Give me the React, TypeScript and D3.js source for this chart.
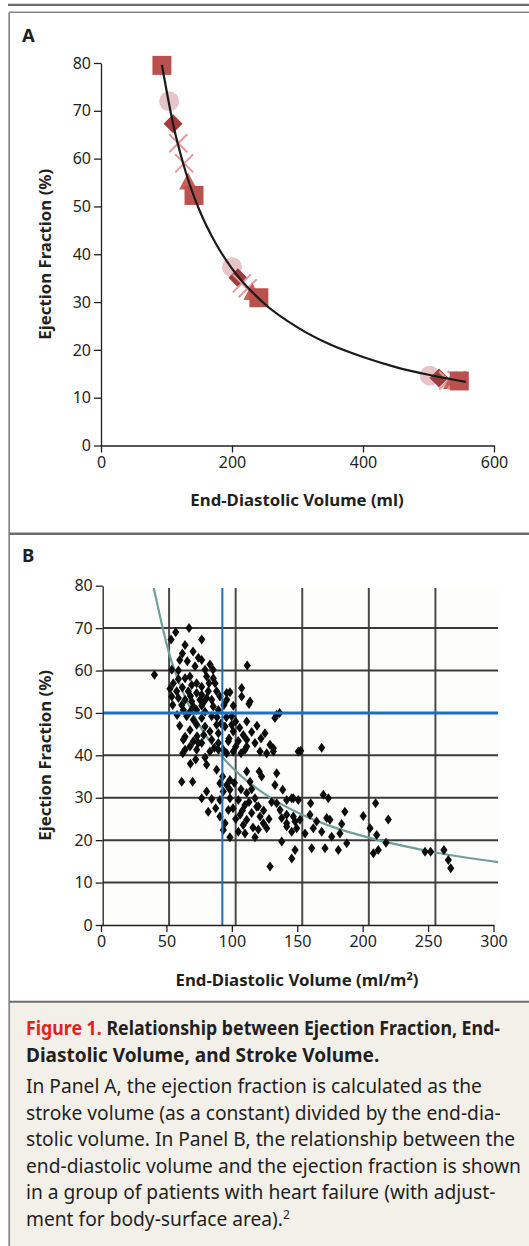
import React, { useEffect, useRef } from "react";
import * as d3 from "d3";

// ---- Panel A: stroke volume held constant ----
const panelAEdv = [93, 104, 110, 118, 127, 133, 142, 200, 209, 215, 224, 231, 241, 502, 516, 530, 536, 543, 547];
const panelAEf = [79.5, 72, 67.3, 63.2, 59, 55, 52.3, 37.3, 35.1, 33.9, 32.9, 31.9, 30.9, 14.6, 14.1, 13.6, 13.3, 13.7, 13.5];
const panelAShape = [
  "square", "circle", "diamond", "cross", "cross", "triangle", "square",
  "circle", "diamond", "cross", "cross", "triangle", "square",
  "circle", "diamond", "cross", "triangle", "cross", "square",
];
const panelACurveEdv = [93, 110, 130, 150, 175, 200, 250, 300, 350, 400, 450, 500, 557];
const panelACurveEf = [79.6, 67.3, 56.9, 49.3, 42.3, 37.0, 29.6, 24.7, 21.1, 18.5, 16.4, 14.8, 13.3];
const panelAXTicks = [0, 200, 400, 600];
const panelAYTicks = [0, 10, 20, 30, 40, 50, 60, 70, 80];

// ---- Panel B: heart-failure patients ----
const panelBEdv = [
  39, 65, 55, 51.5, 74.5, 62, 63.7, 74.5, 69.5, 80.7, 83, 108.7, 52, 57, 77, 62, 65.7, 78.2, 83.2, 53.2,
  67, 70.7, 74.5, 84.5, 50.7, 55.7, 64.4, 70.7, 74.5, 79.4, 85.7, 93.3, 95.7, 104.5, 52, 57, 62, 67, 73.2, 78.2,
  82, 88.2, 93.3, 104.5, 110.8, 52.7, 59.5, 68.2, 74.5, 83.2, 91.2, 98.2, 110, 60.7, 65.7, 70.7, 77, 87, 133, 129.5,
  130.8, 63.2, 68.2, 74.5, 82, 97, 108.3, 70.7, 77, 85.7, 92, 97, 65.7, 80.7, 87, 98.2, 105.7, 122, 62, 60.7,
  68.2, 74.5, 82, 87, 94.5, 102, 108.3, 114.5, 125.8, 72, 62, 70.7, 80.7, 90.7, 98.2, 107, 118.3, 128.3,
  60.3, 65.7, 87, 93.3, 108.3, 123.3, 128.3, 147, 78.2, 59.5, 67.7, 88.2, 93.3, 95.7, 90.7, 108.3, 117.7, 119.5,
  130.8, 129.5, 135.3, 110.8, 78.2, 74.5, 82, 88.2, 95.7, 102, 108.3, 114.5, 107, 115.8, 130.8, 138.3, 143.3, 79.4,
  88.2, 94.5, 103.3, 108.3, 112, 118.3, 120.8, 123.3, 134.6, 138.3, 144.6, 145.8, 142.1, 105.7, 102, 107, 90.7, 95.7,
  114.5, 134.6, 144.6, 142.1, 125.8, 90.2, 95.7, 85.7,
  148.8, 164.6, 142.1, 147, 156.3, 165.8, 169.6, 133.3, 138.3, 143.3, 148.3, 155.8, 160.8, 168.4, 170.8, 179.6, 182,
  195.8, 205.1, 214.6, 138.3, 152.1, 158.3, 164.6, 172.1, 178.3, 183.4, 167.1, 157.1, 177.1, 200.9, 205.9, 203.4,
  207.1, 212.9, 242.2, 246.4, 256.4, 259.7, 261.5,
  105, 110, 113, 117, 121, 125, 127, 100, 98, 85, 92, 117, 112, 104, 99,
  58, 60, 68, 72, 57, 60, 66, 76, 80, 86, 89, 93, 100, 103, 58, 56, 71, 76, 84, 95, 100, 104, 112, 116, 119,
  66, 70, 77,
];
const panelBEf = [
  59, 70, 69, 67.3, 67.3, 66, 62.2, 62.5, 61, 61.4, 60.2, 61.2, 60.2, 60, 60.2, 58.2, 58.6, 58.6, 58.2, 57,
  56.6, 57, 56.2, 57, 55.7, 55.1, 55.1, 54.7, 54.3, 55.1, 55.1, 54.7, 54.9, 55.9, 53.9, 53.5, 53.1, 52.7, 53.1, 53.5,
  53.1, 53.9, 53.1, 53.9, 52.7, 51.9, 51.9, 51.5, 51.7, 51.5, 51.9, 51.7, 52.1, 50.7, 50.3, 50.7, 50.3, 50.7, 50, 48.8,
  49.6, 49.2, 48.4, 48.8, 49.2, 49.2, 48, 47.2, 46.8, 47.2, 46.8, 47.2, 46, 45.6, 45.2, 45.6, 44.8, 45.2, 44.4, 43.7,
  43.3, 42.9, 43.7, 42.9, 43.3, 43.4, 43.7, 42.9, 42.5, 42.9, 41.3, 41.3, 40.9, 41.3, 40.9, 41.3, 40.9, 40.9,
  40.5, 42.1, 41.3, 40.5, 42.1, 40.5, 41.7, 40.9, 37.8, 33.8, 33.8, 33.4, 33, 31.9, 31.5, 36.2, 36.2, 35,
  35.8, 33, 31.9, 33.8, 31.5, 29.9, 29.7, 29.5, 29.9, 29.5, 31.1, 29.9, 28.3, 27.9, 28.7, 29.5, 29.9, 26.7,
  25.6, 27.1, 26, 24.8, 26.4, 25.6, 24, 22.8, 25.2, 24, 24.4, 22.8, 22, 23.6, 22, 21.6, 22.4, 20.7,
  20.7, 19.7, 17.7, 15.7, 13.8, 35, 34.2, 36.6,
  41.1, 41.8, 29.9, 29.5, 28.7, 30.7, 29.9, 27.1, 26, 25.6, 24.8, 26, 24.4, 25.2, 24.8, 23.8, 26.7,
  25.7, 28.7, 24.9, 23.2, 21.6, 22.8, 22, 20.8, 21.6, 19.3, 18.1, 18.1, 17.7, 22.8, 21.2, 16.9,
  17.7, 19.4, 17.3, 17.3, 17.7, 15.3, 13.4,
  27, 29, 23, 28, 27, 25, 29, 25, 27.5, 27.5, 24, 22.5, 32, 32, 33.5,
  62.5, 64, 64.5, 63, 58, 56, 54, 52.5, 57, 49, 47.5, 49, 48, 46.5, 47, 49.5, 44.5, 44.8, 41.8, 44, 42, 40.5, 45.5, 47, 44,
  38, 39, 39.5,
];
const panelBCurveEdv = [38, 50, 60, 70, 80, 90, 100, 125, 150, 175, 200, 225, 250, 275, 298];
const panelBCurveEf = [80.2, 64.1, 55.2, 48.6, 43.6, 39.6, 36.3, 30.2, 26.0, 22.9, 20.6, 18.7, 17.1, 15.8, 14.8];
const panelBXTicks = [0, 50, 100, 150, 200, 250, 300];
const panelBYTicks = [0, 10, 20, 30, 40, 50, 60, 70, 80];
const panelBGridX = [50, 100, 150, 200, 250];
const panelBGridY = [10, 20, 30, 40, 60, 70];
const panelBRefEdv = 90;
const panelBRefEf = 50;

const captionBody = [
  "In Panel A, the ejection fraction is calculated as the",
  "stroke volume (as a constant) divided by the end-dia-",
  "stolic volume. In Panel B, the relationship between the",
  "end-diastolic volume and the ejection fraction is shown",
  "in a group of patients with heart failure (with adjust-",
  "ment for body-surface area).",
];

const FONT = "'Noto Sans', 'Open Sans', sans-serif";
const INK = "#231f20";
const RULE = "#6d6d6d";

const App = () => {
  const ref = useRef<SVGSVGElement>(null);

  useEffect(() => {
    document.body.style.margin = "0";
    const svg = d3.select(ref.current);
    svg.selectAll("*").remove();

    // frame
    svg.append("line").attr("x1", 8).attr("x2", 529).attr("y1", 4.8).attr("y2", 4.8)
      .attr("stroke", RULE).attr("stroke-width", 2.2);
    svg.append("rect").attr("x", 10).attr("y", 1002.5).attr("width", 519).attr("height", 244)
      .attr("fill", "#f3f0ea");
    svg.append("line").attr("x1", 9.2).attr("x2", 529).attr("y1", 12.2).attr("y2", 12.2)
      .attr("stroke", "#858585").attr("stroke-width", 1.6);
    svg.append("line").attr("x1", 9.2).attr("x2", 9.2).attr("y1", 12.2).attr("y2", 1246)
      .attr("stroke", "#858585").attr("stroke-width", 1.7);
    svg.append("line").attr("x1", 9.2).attr("x2", 529).attr("y1", 533.7).attr("y2", 533.7)
      .attr("stroke", RULE).attr("stroke-width", 2.4);
    svg.append("line").attr("x1", 9.2).attr("x2", 529).attr("y1", 1001.7).attr("y2", 1001.7)
      .attr("stroke", RULE).attr("stroke-width", 2);

    const styleAxis = (g) => {
      g.attr("font-family", FONT).attr("font-size", 16);
      g.selectAll("path,line").attr("stroke", INK).attr("stroke-width", 1.3);
      g.selectAll("text").attr("fill", INK);
    };

    // ---------- Panel A ----------
    const xA = d3.scaleLinear().domain([0, 600]).range([101, 494]);
    const yA = d3.scaleLinear().domain([0, 80]).range([445.5, 63]);

    svg.append("text").attr("x", 22).attr("y", 41.7).attr("font-family", FONT)
      .attr("font-weight", 700).attr("font-size", 18.5).attr("fill", INK).text("A");

    svg.append("g").attr("transform", `translate(${xA(0)},0)`)
      .call(d3.axisLeft(yA).tickValues(panelAYTicks).tickSize(7).tickSizeOuter(0).tickPadding(3))
      .call(styleAxis);
    svg.append("g").attr("transform", `translate(0,${yA(0)})`)
      .call(d3.axisBottom(xA).tickValues(panelAXTicks).tickSize(7).tickSizeOuter(0).tickPadding(4))
      .call(styleAxis);

    svg.append("text").attr("x", 297).attr("y", 506).attr("text-anchor", "middle")
      .attr("font-family", FONT).attr("font-weight", 700).attr("font-size", 16.8).attr("fill", INK)
      .text("End-Diastolic Volume (ml)");
    svg.append("text").attr("transform", `translate(51,${(yA(0) + yA(80)) / 2}) rotate(-90)`)
      .attr("text-anchor", "middle").attr("font-family", FONT).attr("font-weight", 700)
      .attr("font-size", 16.8).attr("fill", INK).text("Ejection Fraction (%)");

    const markerStyle = {
      square: { fill: "#b9524f" },
      circle: { fill: "#e6c4c9" },
      diamond: { fill: "#a23c3a" },
      triangle: { fill: "#cd5d57" },
      cross: { stroke: "#e29a9e" },
    };
    const markers = svg.append("g");
    panelAEdv.forEach((edv, i) => {
      const cx = xA(edv);
      const cy = yA(panelAEf[i]);
      const shape = panelAShape[i];
      if (shape === "square") {
        markers.append("rect").attr("x", cx - 9.5).attr("y", cy - 9.5).attr("width", 19).attr("height", 19)
          .attr("fill", markerStyle.square.fill);
      } else if (shape === "circle") {
        markers.append("circle").attr("cx", cx).attr("cy", cy).attr("r", 10).attr("fill", markerStyle.circle.fill);
      } else if (shape === "diamond") {
        markers.append("path").attr("d", `M${cx},${cy - 9.5}L${cx + 9.5},${cy}L${cx},${cy + 9.5}L${cx - 9.5},${cy}Z`)
          .attr("fill", markerStyle.diamond.fill);
      } else if (shape === "triangle") {
        markers.append("path").attr("d", `M${cx},${cy - 10}L${cx + 9},${cy + 7}L${cx - 9},${cy + 7}Z`)
          .attr("fill", markerStyle.triangle.fill);
      } else {
        markers.append("path")
          .attr("d", `M${cx - 9},${cy - 9}L${cx + 9},${cy + 9}M${cx - 9},${cy + 9}L${cx + 9},${cy - 9}`)
          .attr("stroke", markerStyle.cross.stroke).attr("stroke-width", 2).attr("fill", "none");
      }
    });

    const lineA = d3.line<number>().x((d) => xA(d)).y((d, i) => yA(panelACurveEf[i])).curve(d3.curveMonotoneX);
    svg.append("path").datum(panelACurveEdv).attr("d", lineA).attr("fill", "none")
      .attr("stroke", "#1a1a1a").attr("stroke-width", 2.2);

    // ---------- Panel B ----------
    const xB = d3.scaleLinear().domain([0, 300]).range([101, 493.5]);
    const xImg = d3.scaleLinear().domain([0, 300]).range([102.5, 502]); // the pasted plot's own grid
    const yB = d3.scaleLinear().domain([0, 80]).range([925, 585.7]);

    svg.append("text").attr("x", 22).attr("y", 561.7).attr("font-family", FONT)
      .attr("font-weight", 700).attr("font-size", 18.5).attr("fill", INK).text("B");

    const plot = svg.append("g");
    plot.append("rect").attr("x", 103).attr("y", 588).attr("width", 395).attr("height", 337).attr("fill", "#fdfdfc");
    plot.append("clipPath").attr("id", "clipB").append("rect")
      .attr("x", 103).attr("y", 588).attr("width", 395).attr("height", 337);
    const inner = plot.append("g").attr("clip-path", "url(#clipB)");

    inner.selectAll(".gx").data(panelBGridX).enter().append("line")
      .attr("x1", (d) => xImg(d)).attr("x2", (d) => xImg(d)).attr("y1", 588).attr("y2", 925)
      .attr("stroke", "#4a4a4a").attr("stroke-width", 2);
    inner.selectAll(".gy").data(panelBGridY).enter().append("line")
      .attr("x1", 103).attr("x2", 498).attr("y1", (d) => yB(d)).attr("y2", (d) => yB(d))
      .attr("stroke", "#3a3a3a").attr("stroke-width", 2);

    const lineB = d3.line<number>().x((d) => xImg(d)).y((d, i) => yB(panelBCurveEf[i])).curve(d3.curveMonotoneX);
    inner.append("path").datum(panelBCurveEdv).attr("d", lineB).attr("fill", "none")
      .attr("stroke", "#6f9f98").attr("stroke-width", 2.2);

    inner.selectAll(".pt").data(panelBEdv).enter().append("path")
      .attr("d", (d, i) => {
        const cx = xImg(d);
        const cy = yB(panelBEf[i]);
        return `M${cx},${cy - 5}L${cx + 3.6},${cy}L${cx},${cy + 5}L${cx - 3.6},${cy}Z`;
      })
      .attr("fill", "#0d0d0d");

    inner.append("line").attr("x1", 103).attr("x2", 498).attr("y1", yB(panelBRefEf)).attr("y2", yB(panelBRefEf))
      .attr("stroke", "#1c6fc2").attr("stroke-width", 3);
    inner.append("line").attr("x1", xImg(panelBRefEdv)).attr("x2", xImg(panelBRefEdv)).attr("y1", 588).attr("y2", 925)
      .attr("stroke", "#1c6fc2").attr("stroke-width", 2);

    svg.append("g").attr("transform", `translate(${xB(0) + 1.7},0)`)
      .call(d3.axisLeft(yB).tickValues(panelBYTicks).tickSize(7).tickSizeOuter(0).tickPadding(3))
      .call(styleAxis);
    svg.append("g").attr("transform", `translate(0,${yB(0)})`)
      .call(d3.axisBottom(xB).tickValues(panelBXTicks).tickSize(7).tickSizeOuter(0).tickPadding(4))
      .call(styleAxis);

    svg.append("text").attr("x", 297).attr("y", 986).attr("text-anchor", "middle")
      .attr("font-family", FONT).attr("font-weight", 700).attr("font-size", 16.8).attr("fill", INK)
      .call((t) => {
        t.append("tspan").text("End-Diastolic Volume (ml/m");
        t.append("tspan").attr("font-size", 11).attr("dy", -6).text("2");
        t.append("tspan").attr("dy", 6).text(")");
      });
    svg.append("text").attr("transform", `translate(51,${(yB(0) + yB(80)) / 2}) rotate(-90)`)
      .attr("text-anchor", "middle").attr("font-family", FONT).attr("font-weight", 700)
      .attr("font-size", 16.8).attr("fill", INK).text("Ejection Fraction (%)");

    // ---------- Caption ----------
    const cap = svg.append("g").attr("transform", "translate(26,0)")
      .attr("font-family", FONT).attr("fill", INK);
    const head1 = cap.append("text").attr("x", 0).attr("y", 1035).attr("font-size", 19).attr("font-weight", 700)
      .attr("textLength", 474).attr("lengthAdjust", "spacingAndGlyphs");
    head1.append("tspan").attr("fill", "#e2231a").text("Figure 1.");
    head1.append("tspan").text(" Relationship between Ejection Fraction, End-");
    cap.append("text").attr("x", 0).attr("y", 1061.7).attr("font-size", 19).attr("font-weight", 700)
      .text("Diastolic Volume, and Stroke Volume.");
    captionBody.forEach((line, i) => {
      const t = cap.append("text").attr("x", 0).attr("y", 1093.3 + i * 26.5).attr("font-size", 19.2).text(line);
      if (i === captionBody.length - 1) {
        t.append("tspan").attr("font-size", 12).attr("dy", -7).text("2");
      }
    });
  }, []);

  return <svg ref={ref} width={529} height={1246} style={{ display: "block" }} />;
};

export default App;
